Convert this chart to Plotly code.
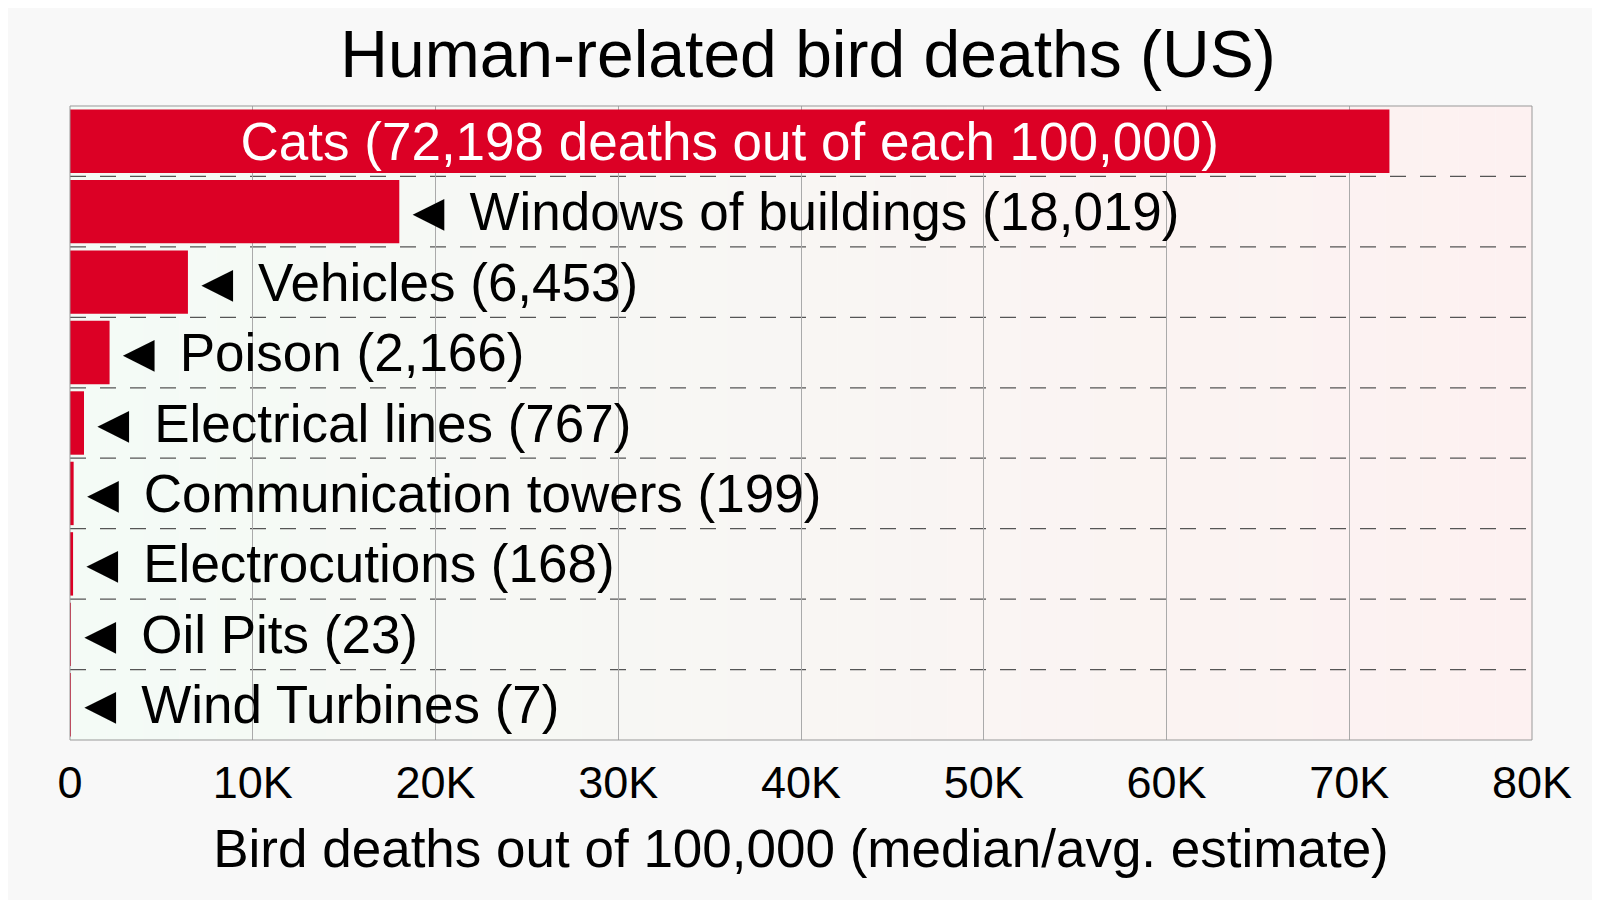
import plotly.graph_objects as go

categories = ["Cats", "Windows of buildings", "Vehicles", "Poison", "Electrical lines",
              "Communication towers", "Electrocutions", "Oil Pits", "Wind Turbines"]
values = [72198, 18019, 6453, 2166, 767, 199, 168, 23, 7]
tick_vals = [0, 10000, 20000, 30000, 40000, 50000, 60000, 70000, 80000]
tick_text = ["0", "10K", "20K", "30K", "40K", "50K", "60K", "70K", "80K"]

labels = []
positions = []
for i, (c, v) in enumerate(zip(categories, values)):
    if i == 0:
        labels.append(f"{c} ({v:,} deaths out of each 100,000)")
        positions.append("inside")
    else:
        labels.append(f"◄ {c} ({v:,})")
        positions.append("outside")

fig = go.Figure(go.Bar(
    x=values, y=categories, orientation="h",
    marker=dict(color="#dc0025", line=dict(width=0)),
    width=0.9,
    text=labels, textposition=positions, insidetextanchor="middle",
    constraintext="none", cliponaxis=False,
    insidetextfont=dict(color="white", size=53),
    outsidetextfont=dict(color="black", size=53),
))

shapes = []
n = 40
c0 = (244, 251, 246)
c1 = (253, 241, 241)
for k in range(n):
    t = k / (n - 1)
    col = tuple(round(a + (b - a) * t) for a, b in zip(c0, c1))
    shapes.append(dict(type="rect", xref="paper", yref="paper", x0=k / n, x1=(k + 1) / n,
                       y0=0, y1=1, fillcolor=f"rgb{col}", line=dict(width=0), layer="below"))
for i in range(len(categories) - 1):
    shapes.append(dict(type="line", xref="paper", yref="y", x0=0, x1=1, y0=i + 0.5, y1=i + 0.5,
                       line=dict(color="#555", width=1.2, dash="16px,14px"), layer="below"))
shapes.append(dict(type="rect", xref="paper", yref="paper", x0=0, x1=1, y0=0, y1=1,
                   line=dict(color="#999", width=1)))

fig.update_layout(
    width=1600, height=900,
    margin=dict(l=62, r=76, t=98, b=168),
    paper_bgcolor="#f8f8f8", plot_bgcolor="rgba(0,0,0,0)",
    font=dict(family="Liberation Sans, Arial, sans-serif", color="black"),
    title=dict(text="Human-related bird deaths (US)", x=0.5, xanchor="center",
               y=0.975, yanchor="top", font=dict(size=66)),
    shapes=shapes, showlegend=False, bargap=0.1,
    xaxis=dict(range=[0, 80000], tickvals=tick_vals, ticktext=tick_text,
               tickfont=dict(size=45), showgrid=True, gridcolor="#aaa", gridwidth=1,
               zeroline=False, ticks="", layer="below traces", ticklabelstandoff=12,
               title=dict(text="Bird deaths out of 100,000 (median/avg. estimate)",
                          font=dict(size=53), standoff=22)),
    yaxis=dict(autorange="reversed", showticklabels=False, showgrid=False, zeroline=False,
               range=[8.5, -0.5]),
)
fig.write_html("out.html")
